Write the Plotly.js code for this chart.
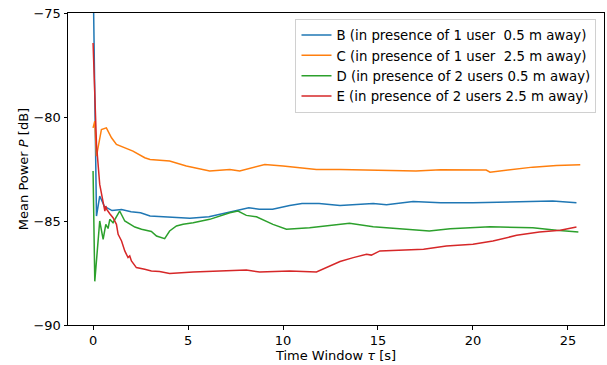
<!DOCTYPE html>
<html>
<head>
<meta charset="utf-8">
<script src="https://cdn.plot.ly/plotly-3.0.1.min.js"></script>
<style>html,body{margin:0;padding:0;background:#fff;}#chart{width:607px;height:365px;}</style>
</head>
<body>
<div id="chart"></div>
<script>
const seriesNames = [
  "B (in presence of 1 user  0.5 m away)",
  "C (in presence of 1 user  2.5 m away)",
  "D (in presence of 2 users 0.5 m away)",
  "E (in presence of 2 users 2.5 m away)"
];
const colors = ["#1f77b4", "#ff7f0e", "#2ca02c", "#d62728"];

const bX = [0, 0.18, 0.35, 0.6, 1.0, 1.5, 2.0, 2.5, 3.0, 4.0, 5.1, 6.1, 7.2, 8.2, 8.75, 9.45, 10.35, 11.0, 11.9, 13.0, 14.75, 15.45, 16.85, 18.3, 20.0, 22.1, 24.2, 25.45];
const bY = [-73, -84.76, -83.8, -84.3, -84.5, -84.45, -84.55, -84.6, -84.76, -84.8, -84.87, -84.8, -84.57, -84.36, -84.44, -84.44, -84.25, -84.16, -84.16, -84.25, -84.16, -84.22, -84.06, -84.12, -84.12, -84.07, -84.04, -84.12];

const cX = [0, 0.09, 0.18, 0.44, 0.7, 0.97, 1.23, 1.67, 2.1, 2.72, 3.0, 4.03, 4.91, 6.14, 7.2, 7.72, 8.77, 9.04, 10.0, 11.76, 13.0, 17.0, 18.3, 20.7, 20.9, 21.75, 23.15, 24.4, 25.65];
const cY = [-80.52, -80.2, -81.88, -80.6, -80.52, -81.0, -81.32, -81.48, -81.64, -81.96, -82.04, -82.12, -82.36, -82.6, -82.52, -82.6, -82.36, -82.28, -82.36, -82.52, -82.52, -82.6, -82.54, -82.55, -82.65, -82.57, -82.41, -82.33, -82.3];

const dX = [0, 0.09, 0.35, 0.53, 0.67, 0.79, 0.88, 1.05, 1.4, 1.67, 2.2, 2.55, 3.07, 3.34, 3.77, 4.03, 4.39, 4.74, 5.27, 6.14, 7.2, 7.63, 8.07, 8.6, 9.47, 10.18, 11.4, 12.8, 13.5, 14.75, 17.7, 18.8, 20.9, 23.15, 24.4, 25.55];
const dY = [-82.6, -87.9, -85.0, -85.88, -85.16, -85.36, -84.92, -85.08, -84.52, -85.0, -85.29, -85.4, -85.5, -85.72, -85.85, -85.48, -85.24, -85.16, -85.08, -84.92, -84.6, -84.52, -84.73, -84.8, -85.16, -85.4, -85.32, -85.16, -85.11, -85.28, -85.48, -85.37, -85.28, -85.32, -85.45, -85.53];

const eX = [0, 0.18, 0.35, 0.53, 0.62, 0.67, 0.72, 0.88, 1.05, 1.23, 1.32, 1.5, 1.67, 1.84, 1.93, 2.02, 2.28, 2.72, 3.07, 3.5, 4.03, 5.27, 7.37, 8.07, 8.77, 10.35, 11.76, 12.3, 13.0, 13.7, 14.4, 14.65, 15.1, 17.4, 18.6, 20.0, 21.05, 22.3, 23.5, 24.6, 25.45];
const eY = [-76.44, -81.32, -83.24, -84.2, -84.52, -84.28, -84.44, -84.65, -84.84, -85.16, -85.64, -85.96, -86.44, -86.76, -86.68, -86.92, -87.24, -87.32, -87.4, -87.43, -87.52, -87.45, -87.36, -87.36, -87.45, -87.4, -87.45, -87.24, -86.95, -86.76, -86.6, -86.64, -86.44, -86.36, -86.2, -86.12, -85.96, -85.69, -85.53, -85.44, -85.29];

const xTicks = [0, 5, 10, 15, 20, 25];
const yTicks = [-90, -85, -80, -75];

const xs = [bX, cX, dX, eX];
const ys = [bY, cY, dY, eY];
const traces = xs.map((x, i) => ({
  x: x, y: ys[i], type: "scatter", mode: "lines", name: seriesNames[i],
  line: {color: colors[i], width: 1.5}
}));

const font = {family: "DejaVu Sans", size: 13, color: "#000"};
const layout = {
  width: 607, height: 365,
  margin: {l: 68, r: 3, t: 13, b: 40},
  paper_bgcolor: "#fff", plot_bgcolor: "#fff",
  font: font,
  showlegend: true,
  legend: {x: 0.986, xanchor: "right", y: 0.981, yanchor: "top",
    bordercolor: "#d0d0d0", borderwidth: 1, bgcolor: "rgba(255,255,255,0.8)",
    font: {family: "DejaVu Sans", size: 13.3, color: "#000"}},
  xaxis: {range: [-1.32, 26.9], tickvals: xTicks, ticks: "outside", ticklen: 3.5, tickcolor: "#000",
    showline: true, mirror: true, linecolor: "#000", linewidth: 1, showgrid: false, zeroline: false,
    title: {text: "Time Window <i>τ</i> [s]", font: font, standoff: 2}},
  yaxis: {range: [-90, -75], tickvals: yTicks, ticks: "outside", ticklen: 3.5, tickcolor: "#000",
    showline: true, mirror: true, linecolor: "#000", linewidth: 1, showgrid: false, zeroline: false,
    title: {text: "Mean Power <i>P</i> [dB]", font: font, standoff: 1}}
};
Plotly.newPlot("chart", traces, layout, {displayModeBar: false, staticPlot: true});
</script>
</body>
</html>
